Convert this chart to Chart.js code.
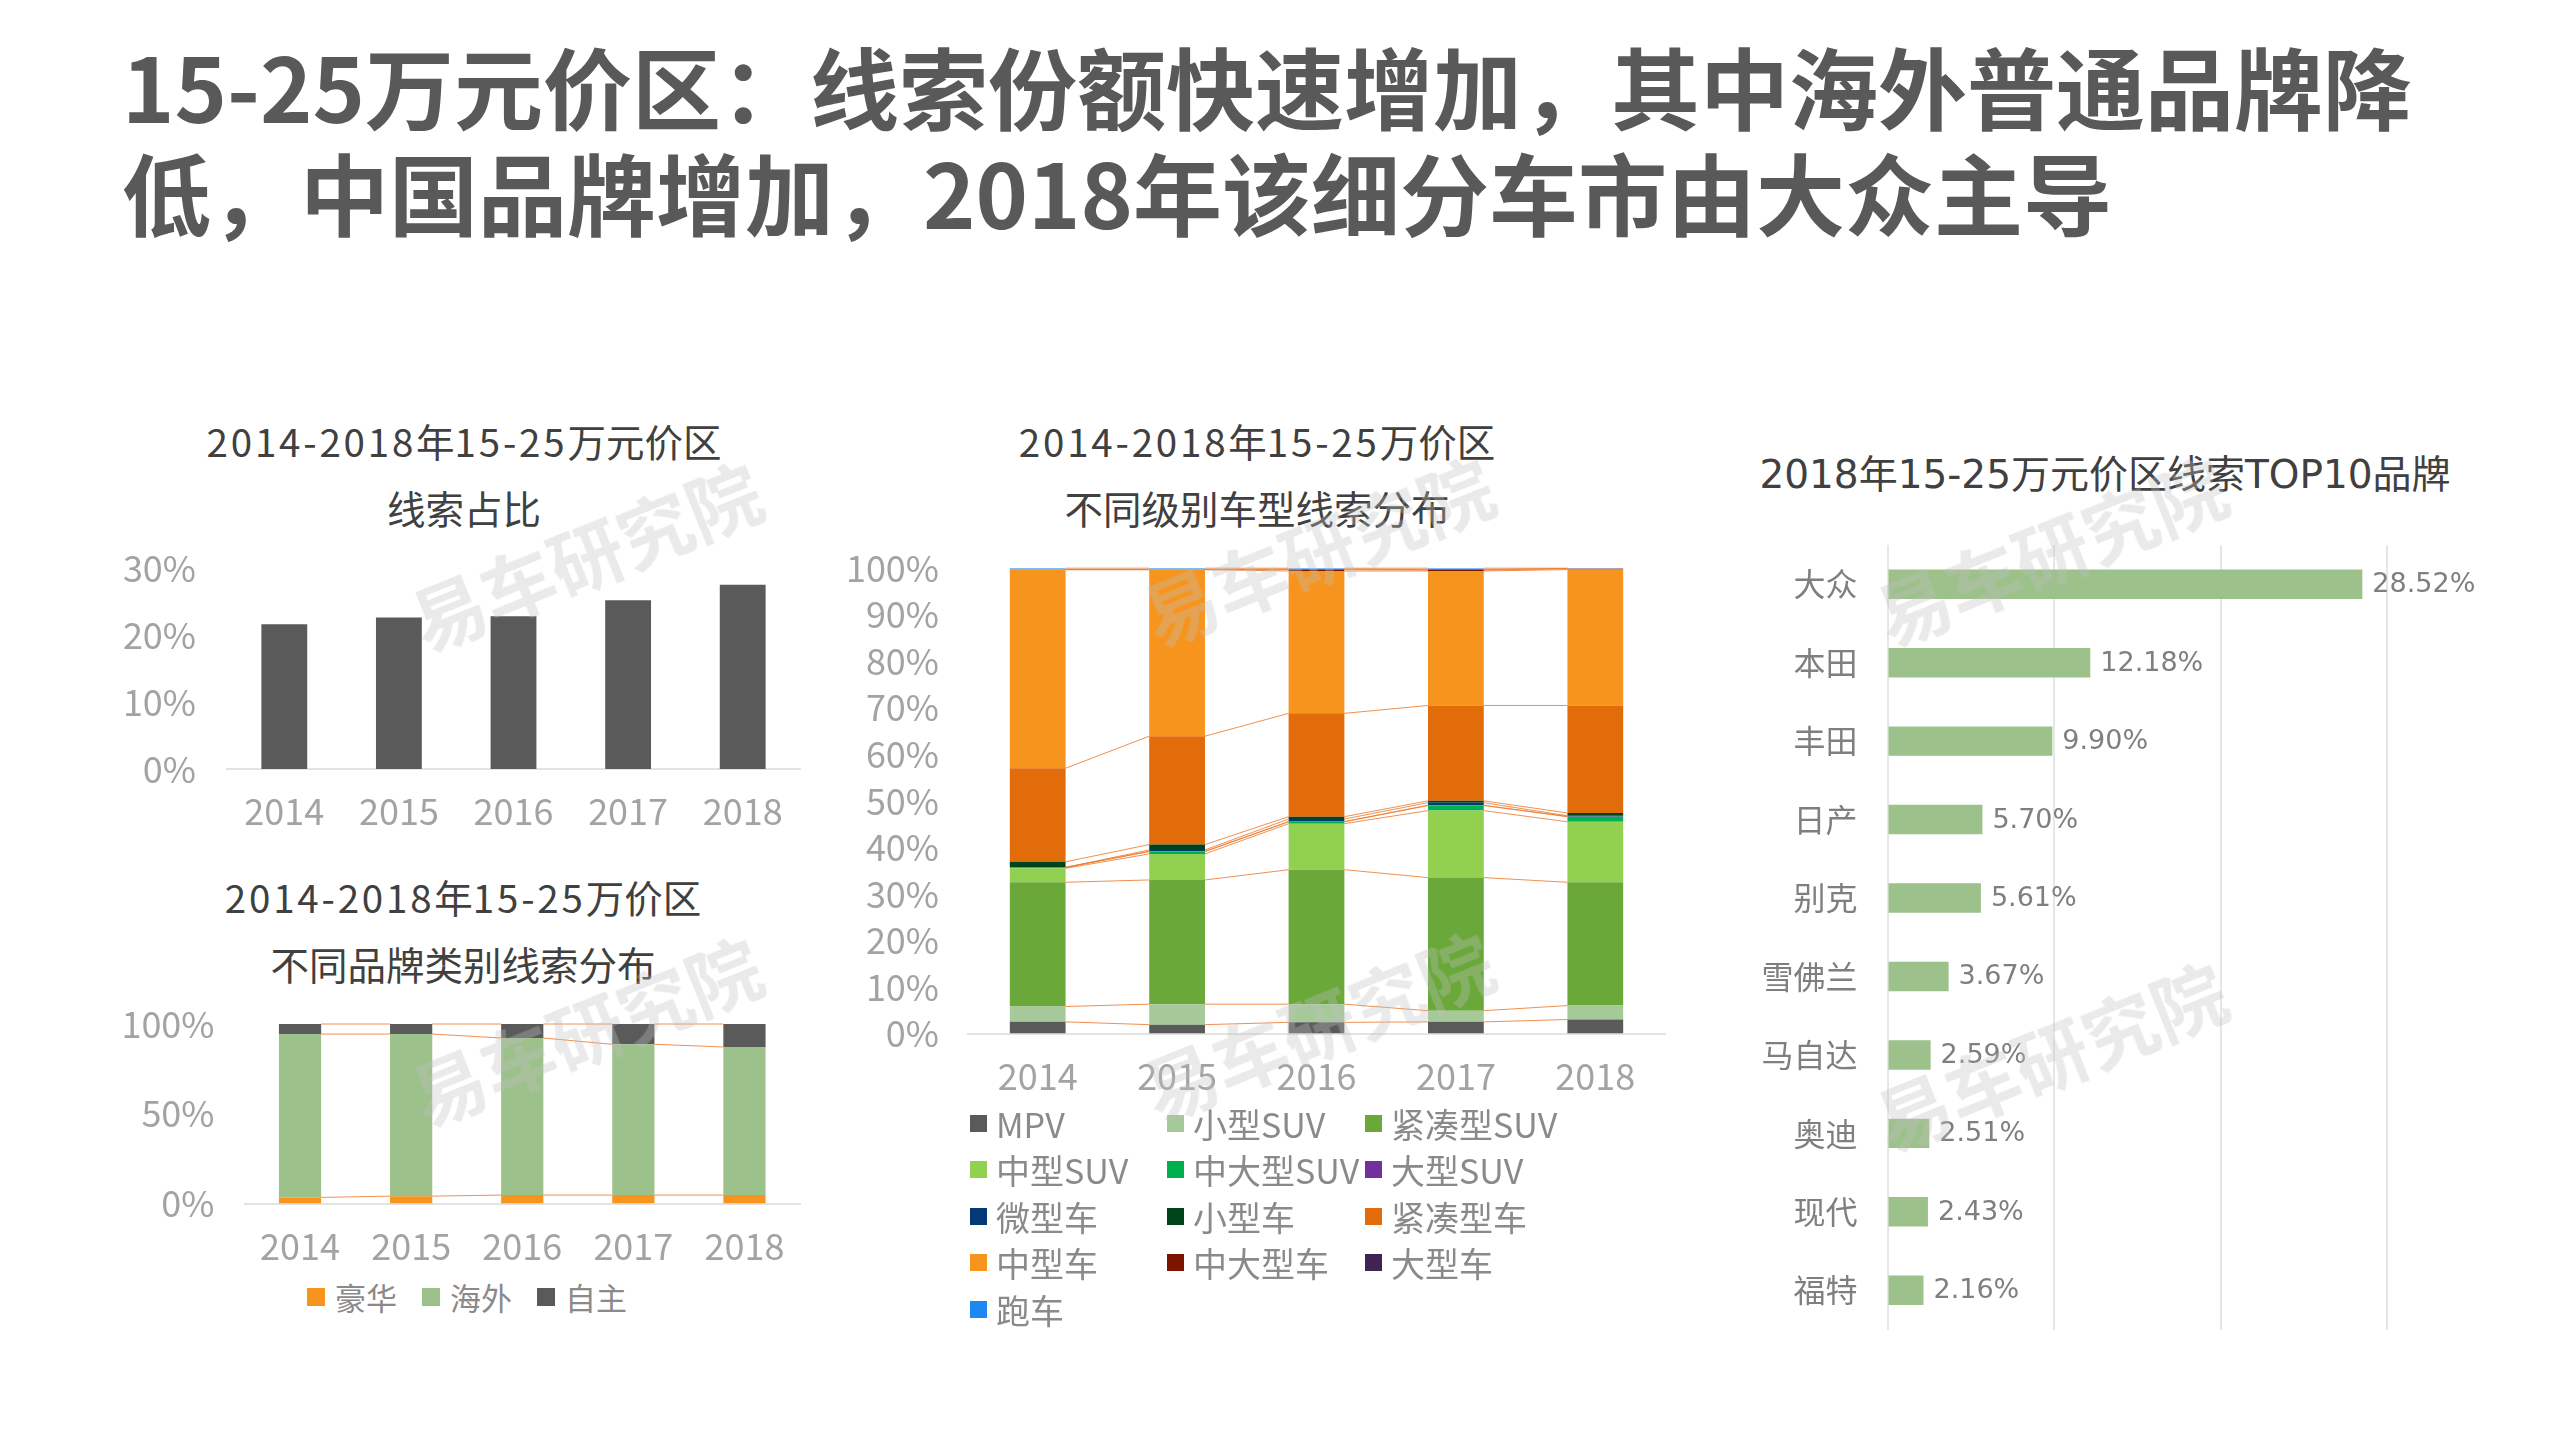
<!DOCTYPE html>
<html>
<head>
<meta charset="utf-8">
<script src="https://cdn.jsdelivr.net/npm/chart.js@4.4.1/dist/chart.umd.min.js"></script>
<style>
  html, body { margin: 0; padding: 0; background: #fff; }
  body { width: 2560px; height: 1440px; position: relative; overflow: hidden; font-family: "Noto Sans CJK SC", sans-serif; }
  .headline { position: absolute; left: 122px; top: 32px; font-size: 89px; line-height: 106px; font-weight: 700; color: #595959; white-space: nowrap; }
  canvas { position: absolute; }
  .ctitle { position: absolute; width: 800px; text-align: center; font-family: "Noto Sans CJK SC", sans-serif; font-size: 38.5px; line-height: 67px; color: #404040; white-space: nowrap; }
  .ctitle .lat { letter-spacing: 2.8px; }
  .ctitle.right { font-family: "DejaVu Sans", "Noto Sans CJK SC", sans-serif; font-size: 39px; line-height: 50px; }
  .legend { position: absolute; display: grid; }
  .legend .item { display: flex; align-items: center; color: #8a8a8a; white-space: nowrap; }
  .legend .box { flex: none; }
  #legend2 { left: 307px; top: 1276.5px; grid-template-columns: 115px 115px 115px; }
  #legend2 .item { height: 40px; font-size: 31px; }
  #legend2 .box { width: 18px; height: 18px; margin-right: 10px; }
  #legend3 { left: 970px; top: 1100px; grid-template-columns: 197px 198px 200px; }
  #legend3 .item { height: 46.5px; font-size: 34px; }
  #legend3 .box { width: 17px; height: 17px; margin-right: 9px; }
  .mark { position: absolute; font-size: 74px; font-weight: 700; color: rgba(190,190,190,0.33); transform: rotate(-22deg); white-space: nowrap; pointer-events: none; z-index: 5; }
</style>
</head>
<body>
<div class="headline">15-25万元价区：线索份额快速增加，其中海外普通品牌降<br>低，中国品牌增加，2018年该细分车市由大众主导</div>

<div class="ctitle" style="left:64px;top:407px"><span class="lat">2014-2018</span>年<span class="lat">15-25</span>万元价区<br>线索占比</div>
<div class="ctitle" style="left:63px;top:863px"><span class="lat">2014-2018</span>年<span class="lat">15-25</span>万价区<br>不同品牌类别线索分布</div>
<div class="ctitle" style="left:857px;top:407px"><span class="lat">2014-2018</span>年<span class="lat">15-25</span>万价区<br>不同级别车型线索分布</div>
<div class="ctitle right" style="left:1705px;top:450px">2018年15-25万元价区线索TOP10品牌</div>

<canvas id="c1" width="720" height="460" style="left:100px;top:400px"></canvas>
<canvas id="c2" width="720" height="410" style="left:100px;top:860px"></canvas>
<div id="legend2" class="legend"></div>
<canvas id="c3" width="860" height="700" style="left:830px;top:400px"></canvas>
<div id="legend3" class="legend"></div>
<canvas id="c4" width="770" height="949" style="left:1720px;top:430px"></canvas>

<div class="mark" style="left:400px;top:500px">易车研究院</div>
<div class="mark" style="left:400px;top:975px">易车研究院</div>
<div class="mark" style="left:1132px;top:495px">易车研究院</div>
<div class="mark" style="left:1132px;top:970px">易车研究院</div>
<div class="mark" style="left:1865px;top:495px">易车研究院</div>
<div class="mark" style="left:1865px;top:1000px">易车研究院</div>

<script>
// ===== DATA =====
const years = ['2014', '2015', '2016', '2017', '2018'];

// 线索占比 (%)
const leadShare = [21.6, 22.6, 22.8, 25.2, 27.5];

// 不同品牌类别线索分布 (%)
const brandTypes = ['豪华', '海外', '自主'];
const luxury   = [3.4, 4.1, 4.7, 4.7, 4.7];
const overseas = [91.0, 90.3, 87.5, 84.0, 82.5];
const domestic = [5.6, 5.6, 7.8, 11.3, 12.8];

// 不同级别车型线索分布 (%)
const segNames = ['MPV', '小型SUV', '紧凑型SUV', '中型SUV', '中大型SUV', '大型SUV',
                  '微型车', '小型车', '紧凑型车', '中型车', '中大型车', '大型车', '跑车'];
const mpv         = [2.5, 1.9, 2.4, 2.5, 3.0];
const smallSuv    = [3.3, 4.4, 3.9, 2.4, 3.0];
const compactSuv  = [26.7, 26.7, 28.9, 28.6, 26.5];
const midSuv      = [3.0, 5.6, 9.9, 14.4, 13.0];
const midLargeSuv = [0.2, 0.5, 0.4, 1.1, 1.1];
const largeSuv    = [0.0, 0.05, 0.05, 0.05, 0.05];
const miniCar     = [0.0, 0.3, 0.55, 0.55, 0.15];
const smallCar    = [1.2, 1.15, 0.5, 0.4, 0.6];
const compactCar  = [20.1, 23.3, 22.2, 20.5, 23.1];
const midCar      = [42.7, 35.8, 30.6, 28.9, 29.2];
const midLargeCar = [0.0, 0.0, 0.3, 0.2, 0.2];
const largeCar    = [0.0, 0.0, 0.1, 0.1, 0.05];
const sportsCar   = [0.3, 0.3, 0.2, 0.3, 0.05];

// 2018 TOP10 品牌 (%)
const topBrands  = ['大众', '本田', '丰田', '日产', '别克', '雪佛兰', '马自达', '奥迪', '现代', '福特'];
const brandShare = [28.52, 12.18, 9.90, 5.70, 5.61, 3.67, 2.59, 2.51, 2.43, 2.16];

// ===== STYLE =====
const segValues = [mpv, smallSuv, compactSuv, midSuv, midLargeSuv, largeSuv, miniCar, smallCar, compactCar, midCar, midLargeCar, largeCar, sportsCar];
const segColors = ['#5a5a5a', '#a6c99a', '#6aa839', '#92d050', '#00b050', '#7030a0',
                   '#033a75', '#00441b', '#e26b0a', '#f7941d', '#7b1500', '#3f2352', '#1e88f0'];
const brandColors = ['#f7941d', '#9dc18b', '#5a5a5a'];
const tickGray = '#a3a3a3';
const CJK = '"Noto Sans CJK SC", sans-serif';

Chart.defaults.font.family = CJK;
Chart.defaults.animation = false;
Chart.defaults.responsive = false;
Chart.defaults.plugins.tooltip.enabled = false;
Chart.defaults.plugins.legend.display = false;

// Excel style series lines between stacked bars
const seriesLines = {
  id: 'seriesLines',
  afterDatasetsDraw(chart) {
    const ctx = chart.ctx;
    ctx.save();
    ctx.strokeStyle = 'rgba(237,125,49,0.85)';
    ctx.lineWidth = 1;
    chart.data.datasets.forEach((ds, d) => {
      const bars = chart.getDatasetMeta(d).data;
      for (let i = 0; i < bars.length - 1; i++) {
        const a = bars[i], b = bars[i + 1];
        ctx.beginPath();
        ctx.moveTo(a.x + a.width / 2, a.y);
        ctx.lineTo(b.x - b.width / 2, b.y);
        ctx.stroke();
      }
    });
    ctx.restore();
  }
};

// value labels after horizontal bars
const barValues = {
  id: 'barValues',
  afterDatasetsDraw(chart) {
    const ctx = chart.ctx;
    ctx.save();
    ctx.font = '27px "DejaVu Sans", ' + CJK;
    ctx.fillStyle = '#7f7f7f';
    ctx.textBaseline = 'middle';
    const ds = chart.data.datasets[0];
    chart.getDatasetMeta(0).data.forEach((bar, i) => {
      ctx.fillText(ds.data[i].toFixed(2) + '%', bar.x + 10, bar.y + 1);
    });
    ctx.restore();
  }
};

function pctAxis(max, step, width, pad) {
  return {
    min: 0, max: max,
    ticks: { stepSize: step, color: tickGray, font: { size: 36 }, padding: pad, callback: v => v + '%' },
    grid: { display: false, drawTicks: false },
    border: { display: false },
    afterFit: s => { s.width = width; }
  };
}

function yearAxis(height, pad, stacked) {
  return {
    stacked: stacked,
    ticks: { color: tickGray, font: { size: 36 }, padding: pad },
    grid: { display: false, drawTicks: false },
    border: { color: '#e3e3e3', width: 2 },
    afterFit: s => { s.height = height; }
  };
}

function htmlLegend(el, chart) {
  chart.data.datasets.forEach(ds => {
    const item = document.createElement('div');
    item.className = 'item';
    item.innerHTML = '<span class="box" style="background:' + ds.backgroundColor + '"></span>' + ds.label;
    el.appendChild(item);
  });
}

// ===== CHART 1: 线索占比 =====
new Chart(document.getElementById('c1'), {
  type: 'bar',
  data: {
    labels: years,
    datasets: [{ data: leadShare, backgroundColor: '#5a5a5a', barPercentage: 0.4, categoryPercentage: 1 }]
  },
  options: {
    layout: { padding: { top: 168, left: 0, right: 20, bottom: 0 } },
    scales: {
      x: yearAxis(91, 21, false),
      y: pctAxis(30, 10, 127, 31)
    }
  }
});

// ===== CHART 2: 品牌类别 =====
const chart2 = new Chart(document.getElementById('c2'), {
  type: 'bar',
  data: {
    labels: years,
    datasets: [luxury, overseas, domestic].map((vals, i) => ({
      label: brandTypes[i], data: vals, backgroundColor: brandColors[i],
      barPercentage: 0.38, categoryPercentage: 1
    }))
  },
  options: {
    layout: { padding: { top: 164, left: 0, right: 20, bottom: 0 } },
    scales: {
      x: yearAxis(66.5, 21, true),
      y: Object.assign(pctAxis(100, 50, 144.5, 30), { stacked: true })
    }
  },
  plugins: [seriesLines]
});
htmlLegend(document.getElementById('legend2'), chart2);

// ===== CHART 3: 车型级别 =====
const chart3 = new Chart(document.getElementById('c3'), {
  type: 'bar',
  data: {
    labels: years,
    datasets: segNames.map((name, i) => ({
      label: name, data: segValues[i], backgroundColor: segColors[i],
      barPercentage: 0.4, categoryPercentage: 1
    }))
  },
  options: {
    layout: { padding: { top: 168.2, left: 0, right: 25, bottom: 0 } },
    scales: {
      x: yearAxis(66.5, 21, true),
      y: Object.assign(pctAxis(100, 10, 138, 29), { stacked: true })
    }
  },
  plugins: [seriesLines]
});
htmlLegend(document.getElementById('legend3'), chart3);

// ===== CHART 4: TOP10 品牌 =====
new Chart(document.getElementById('c4'), {
  type: 'bar',
  data: {
    labels: topBrands,
    datasets: [{ data: brandShare, backgroundColor: '#9dc18b', barPercentage: 0.375, categoryPercentage: 1 }]
  },
  options: {
    indexAxis: 'y',
    layout: { padding: { top: 115, left: 0, right: 103, bottom: 49.5 } },
    scales: {
      x: {
        min: 0, max: 30,
        ticks: { display: false, stepSize: 10 },
        grid: { color: '#e6e6e6', lineWidth: 2, drawTicks: false },
        border: { display: false },
        afterFit: s => { s.height = 0; }
      },
      y: {
        ticks: { color: '#7f7f7f', font: { size: 32 }, padding: 30 },
        grid: { display: false, drawTicks: false },
        border: { display: false },
        afterFit: s => { s.width = 167.5; }
      }
    }
  },
  plugins: [barValues]
});
</script>
</body>
</html>
